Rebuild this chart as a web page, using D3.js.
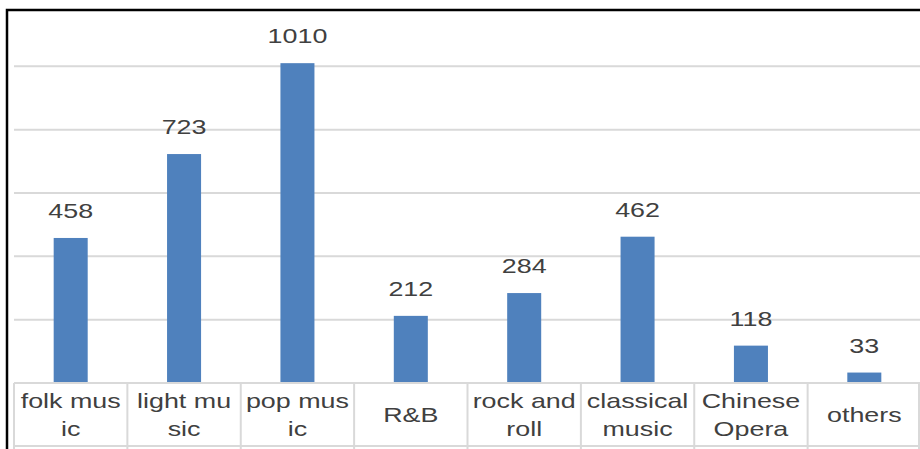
<!DOCTYPE html>
<html>
<head>
<meta charset="utf-8">
<script src="https://cdn.jsdelivr.net/npm/d3@7"></script>
<style>
  html, body { margin: 0; padding: 0; background: #fff; }
  svg { display: block; }
</style>
</head>
<body>
<svg id="chart" width="920" height="449"></svg>
<script>
// Music genre preferences (number of respondents)
const categories = ["folk music", "light music", "pop music", "R&B", "rock and roll", "classical music", "Chinese Opera", "others"];
// Category labels as they wrap inside their table cells
const categoryLines = [["folk mus", "ic"], ["light mu", "sic"], ["pop mus", "ic"], ["R&B"], ["rock and", "roll"], ["classical", "music"], ["Chinese", "Opera"], ["others"]];
const values = [458, 723, 1010, 212, 284, 462, 118, 33];
const gridValues = [200, 400, 600, 800, 1000];

const svg = d3.select("#chart");
const W = 920, H = 449;
const baseY = 383, tableBottom = 446;

const x = d3.scaleBand().domain(categories).range([14, 921]).padding(0);
const y = d3.scaleLinear().domain([0, 1200]).range([baseY, 3]);

const textColor = "#404040";
const gridColor = "#d9d9d9";
const barColor = "#4f81bd";
const font = "'Liberation Sans', Arial, Helvetica, sans-serif";
const stretch = 1.28; // labels are set in a wide face

// horizontal gridlines
svg.append("g")
  .selectAll("line")
  .data(gridValues)
  .join("line")
  .attr("x1", 14).attr("x2", W)
  .attr("y1", d => y(d)).attr("y2", d => y(d))
  .attr("stroke", gridColor)
  .attr("stroke-width", 2);

// bars
const barW = x.bandwidth() * 0.3;
svg.append("g")
  .selectAll("rect")
  .data(values)
  .join("rect")
  .attr("x", (d, i) => x(categories[i]) + (x.bandwidth() - barW) / 2)
  .attr("y", d => y(d))
  .attr("width", barW)
  .attr("height", d => baseY - y(d))
  .attr("fill", barColor);

// value labels above bars
svg.append("g")
  .selectAll("text")
  .data(values)
  .join("text")
  .attr("transform", (d, i) => `translate(${x(categories[i]) + x.bandwidth() / 2},${y(d) - 20}) scale(${stretch},1)`)
  .attr("text-anchor", "middle")
  .attr("font-family", font)
  .attr("font-size", 21)
  .attr("fill", textColor)
  .text(d => d);

// category table: horizontal rules and cell dividers
const table = svg.append("g");
table.append("line")
  .attr("x1", 14).attr("x2", W)
  .attr("y1", baseY).attr("y2", baseY)
  .attr("stroke", gridColor).attr("stroke-width", 2);
table.append("line")
  .attr("x1", 14).attr("x2", W)
  .attr("y1", tableBottom).attr("y2", tableBottom)
  .attr("stroke", gridColor).attr("stroke-width", 2);
const edges = categories.map(c => x(c)).concat([x.range()[1] - 2]);
table.selectAll("line.div")
  .data(edges)
  .join("line")
  .attr("class", "div")
  .attr("x1", d => d).attr("x2", d => d)
  .attr("y1", baseY).attr("y2", H)
  .attr("stroke", gridColor).attr("stroke-width", 2);

// category labels
const mid = (baseY + tableBottom) / 2;
const lineH = 28;
const labels = table.selectAll("text.cat")
  .data(categories)
  .join("text")
  .attr("class", "cat")
  .attr("text-anchor", "middle")
  .attr("font-family", font)
  .attr("font-size", 21)
  .attr("fill", textColor);
labels.each(function(c, i) {
  const lines = categoryLines[i];
  const cx = x(c) + x.bandwidth() / 2;
  const startY = mid + 7.5 - (lines.length - 1) * lineH / 2;
  d3.select(this)
    .attr("transform", `translate(${cx},${startY}) scale(${stretch},1)`)
    .selectAll("tspan")
    .data(lines)
    .join("tspan")
    .attr("x", 0)
    .attr("y", (l, j) => j * lineH)
    .text(l => l);
});

// outer frame
svg.append("path")
  .attr("d", `M7,${H + 5} V10 H${W + 5}`)
  .attr("fill", "none")
  .attr("stroke", "#000")
  .attr("stroke-width", 2.5);
</script>
</body>
</html>
